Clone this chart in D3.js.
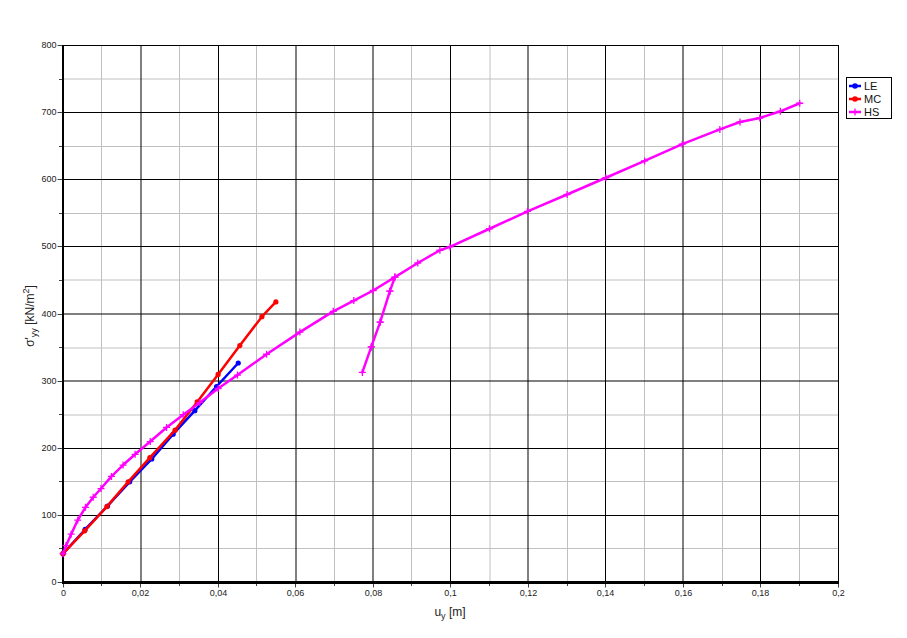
<!DOCTYPE html>
<html><head><meta charset="utf-8">
<script src="https://cdn.jsdelivr.net/npm/d3@7"></script>
<style>
body{margin:0;background:#fff}
svg{display:block}
text{font-family:"Liberation Sans",Arial,sans-serif}
</style></head>
<body><svg id="c" width="907" height="638"></svg>
<script>
// ---- data ----
const xTicks = [0,0.02,0.04,0.06,0.08,0.1,0.12,0.14,0.16,0.18,0.2];
const xTickLabels = ["0","0,02","0,04","0,06","0,08","0,1","0,12","0,14","0,16","0,18","0,2"];
const xMinorTicks = [0.01,0.03,0.05,0.07,0.09,0.11,0.13,0.15,0.17,0.19];
const yTicks = [0,100,200,300,400,500,600,700,800];
const yTickLabels = ["0","100","200","300","400","500","600","700","800"];
const yMinorTicks = [50,150,250,350,450,550,650,750];

const seriesNames = ["LE","MC","HS"];
const leU = [0,0.0057,0.0115,0.0172,0.0229,0.0284,0.034,0.0396,0.0452];
const leS = [43,79,114,150,184,221,256,292,327];
const mcU = [0,0.0056,0.0113,0.0168,0.0224,0.0289,0.0346,0.040,0.0456,0.0513,0.0549];
const mcS = [43,77,113,150,186,227,269,310,353,396,418];
const hsU = [0,0.0008,0.0021,0.0038,0.0058,0.0078,0.0098,0.0125,0.0155,0.0186,0.0225,0.0267,0.031,0.0353,0.040,0.045,0.0525,0.0611,0.0697,0.075,0.080,0.0856,
             0.0843,0.0818,0.0795,0.0772,0.0795,0.0818,0.0843,0.0856,
             0.0915,0.0972,0.0998,0.11,0.1198,0.13,0.14,0.15,0.1597,0.1694,0.1746,0.1797,0.185,0.19];
const hsS = [43,55,72,93,112,127,140,158,175,191,210,231,250,268,289,309,340,373,404,420,435,455,
             434,388,351,313,351,388,434,455,
             476,495,500,527,553,578,603,628,653,675,686,692,702,714];

// ---- render config (styles only) ----
const colors = {LE:"#0000ff", MC:"#ff0000", HS:"#ff00ff"};
const blurX = [0.02,0.06,0.08,0.11,0.12,0.16];
const blurY = [750,450,400,350,300,250];

const svg = d3.select("#c");
const x = d3.scaleLinear().domain([0,0.2]).range([63,838.5]);
const y = d3.scaleLinear().domain([0,800]).range([582.5,45.5]);
const isBlur = (arr,v)=>arr.some(b=>Math.abs(b-v)<1e-9);
const gx = (v)=> isBlur(blurX,v) ? Math.round(x(v)) : Math.floor(x(v))+0.5;
const gy = (v)=> isBlur(blurY,v) ? Math.round(y(v)) : Math.floor(y(v))+0.5;

const grid = svg.append("g");
grid.selectAll(".vm").data(xMinorTicks).enter().append("line")
  .attr("x1",gx).attr("x2",gx).attr("y1",45).attr("y2",582)
  .attr("stroke","#c0c0c0").attr("stroke-width",1);
grid.selectAll(".hm").data(yMinorTicks).enter().append("line")
  .attr("y1",gy).attr("y2",gy).attr("x1",63).attr("x2",839)
  .attr("stroke","#c0c0c0").attr("stroke-width",1);
grid.selectAll(".vM").data(xTicks.slice(1,-1)).enter().append("line")
  .attr("x1",gx).attr("x2",gx).attr("y1",45).attr("y2",582)
  .attr("stroke","#000").attr("stroke-width",1);
grid.selectAll(".hM").data(yTicks.slice(1,-1)).enter().append("line")
  .attr("y1",gy).attr("y2",gy).attr("x1",63).attr("x2",839)
  .attr("stroke","#000").attr("stroke-width",1);
svg.append("line").attr("x1",62).attr("x2",839).attr("y1",45.5).attr("y2",45.5).attr("stroke","#000");
svg.append("line").attr("x1",838.5).attr("x2",838.5).attr("y1",45).attr("y2",583).attr("stroke","#000");

// axes
const xAxis = d3.axisBottom(x).tickValues(xTicks).tickSize(5).tickSizeOuter(0)
  .tickFormat((d,i)=>xTickLabels[i]);
const gX = svg.append("g").attr("transform","translate(0,582.5)").call(xAxis);
gX.select(".domain").remove();
gX.selectAll(".tick line").attr("stroke","#444");
gX.selectAll(".tick").attr("transform",d=>`translate(${Math.floor(x(d))+0.5},0)`);
gX.selectAll("text").attr("fill","#222").style("font-size","9px").attr("y",7);
svg.append("g").selectAll("line").data(xMinorTicks).enter().append("line")
  .attr("x1",d=>Math.floor(x(d))+0.5).attr("x2",d=>Math.floor(x(d))+0.5)
  .attr("y1",582).attr("y2",586).attr("stroke","#444");

const yAxis = d3.axisLeft(y).tickValues(yTicks).tickSize(5).tickSizeOuter(0)
  .tickFormat((d,i)=>yTickLabels[i]);
const gY = svg.append("g").attr("transform","translate(62.5,0)").call(yAxis);
gY.select(".domain").remove();
gY.selectAll(".tick line").attr("stroke","#444");
gY.selectAll(".tick").attr("transform",d=>`translate(0,${Math.floor(y(d))+0.5})`);
gY.selectAll("text").attr("fill","#222").style("font-size","9px").attr("x",-6);
svg.append("g").selectAll("line").data(yMinorTicks).enter().append("line")
  .attr("y1",d=>Math.floor(y(d))+0.5).attr("y2",d=>Math.floor(y(d))+0.5)
  .attr("x1",59).attr("x2",63).attr("stroke","#444");

svg.append("line").attr("x1",63).attr("x2",63).attr("y1",45).attr("y2",584).attr("stroke","#000").attr("stroke-width",2);
svg.append("line").attr("x1",62).attr("x2",839).attr("y1",582.5).attr("y2",582.5).attr("stroke","#000").attr("stroke-width",3);

// axis titles
const xt = svg.append("text").attr("x",450).attr("y",616).attr("text-anchor","middle")
  .attr("fill","#222").style("font-size","12px");
xt.append("tspan").text("u");
xt.append("tspan").attr("dy",3).style("font-size","9px").text("y");
xt.append("tspan").attr("dy",-3).text(" [m]");

const yt = svg.append("text").attr("transform","translate(34,316) rotate(-90)")
  .attr("text-anchor","middle").attr("fill","#222").style("font-size","12px");
yt.append("tspan").text("σ'");
yt.append("tspan").attr("dy",3).style("font-size","9px").text("yy");
yt.append("tspan").attr("dy",-3).text(" [kN/m");
yt.append("tspan").attr("dy",-5).style("font-size","9px").text("2");
yt.append("tspan").attr("dy",5).text("]");

// series
const line = d3.line().x(d=>x(d[0])).y(d=>y(d[1]));
const series = [
  {name:"LE", pts: leU.map((u,i)=>[u,leS[i]]), marker:"circle"},
  {name:"MC", pts: mcU.map((u,i)=>[u,mcS[i]]), marker:"circle"},
  {name:"HS", pts: hsU.map((u,i)=>[u,hsS[i]]), marker:"plus"}
];
const plus = "M-3.5,0H3.5M0,-3.5V3.5";
series.forEach(s=>{
  const g = svg.append("g");
  g.append("path").attr("d",line(s.pts)).attr("fill","none")
    .attr("stroke",colors[s.name]).attr("stroke-width",2.5)
    .attr("stroke-linejoin","round").attr("stroke-linecap","round");
  if(s.marker==="circle"){
    g.selectAll("circle").data(s.pts).enter().append("circle")
      .attr("cx",d=>x(d[0])).attr("cy",d=>y(d[1])).attr("r",2.6).attr("fill",colors[s.name]);
  } else {
    g.selectAll("path.m").data(s.pts).enter().append("path").attr("class","m")
      .attr("d",plus).attr("transform",d=>`translate(${x(d[0])},${y(d[1])})`)
      .attr("stroke",colors[s.name]).attr("stroke-width",1.3).attr("fill","none");
  }
});

// legend
const lg = svg.append("g");
lg.append("rect").attr("x",846.5).attr("y",77.5).attr("width",45).attr("height",41)
  .attr("fill","#fff").attr("stroke","#000");
seriesNames.forEach((n,i)=>{
  const yy = 86 + i*13;
  lg.append("line").attr("x1",849).attr("x2",861).attr("y1",yy).attr("y2",yy)
    .attr("stroke",colors[n]).attr("stroke-width",2.5);
  if(n==="HS"){
    lg.append("path").attr("d",plus).attr("transform",`translate(855,${yy})`)
      .attr("stroke",colors[n]).attr("stroke-width",1.3);
  } else {
    lg.append("circle").attr("cx",855).attr("cy",yy).attr("r",2.8).attr("fill",colors[n]);
  }
  lg.append("text").attr("x",864).attr("y",yy+4).attr("fill","#111")
    .style("font-size","11px").text(n);
});
</script></body></html>
